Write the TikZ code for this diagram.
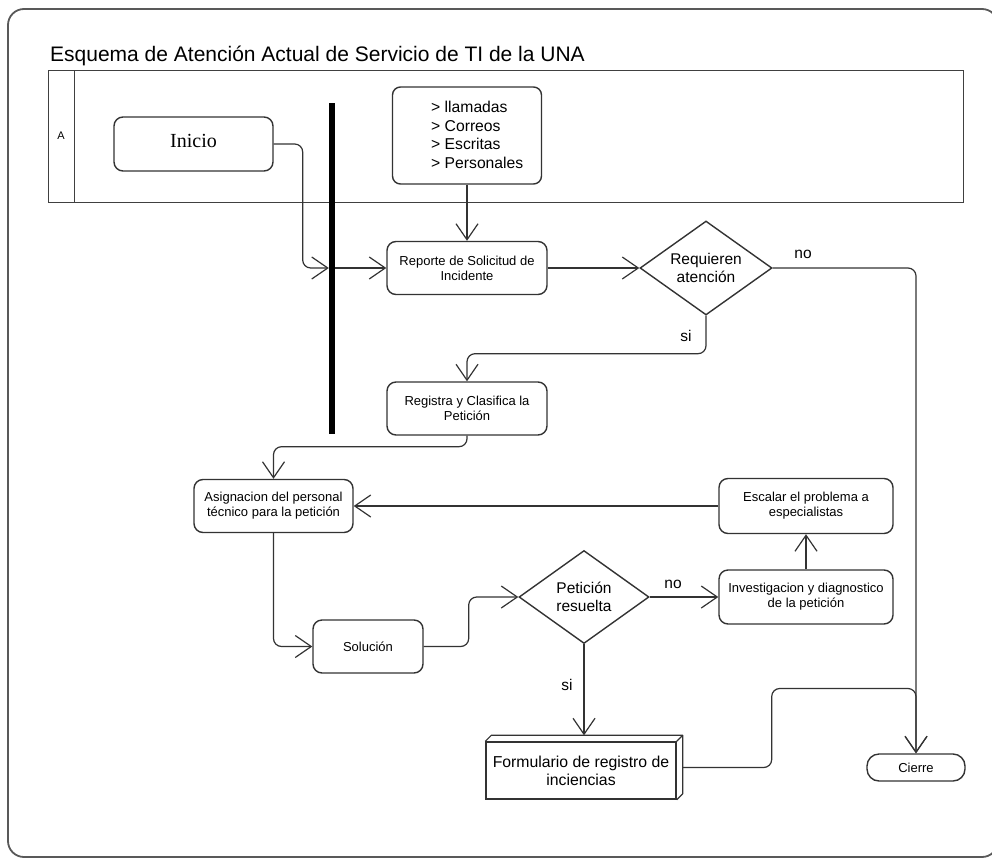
\documentclass[tikz,border=0pt]{standalone}
\usepackage{fontspec}
\setmainfont{Liberation Sans}
\newfontfamily\seriffont{Liberation Serif}
\usetikzlibrary{arrows.meta,shapes.geometric,calc}
\colorlet{ln}{black!80}
\begin{document}
\begin{tikzpicture}[x=1pt,y=-1pt,
  box/.style={draw=ln, rounded corners=9pt, line width=1.4pt, align=center,
    font=\fontsize{13}{15}\selectfont, inner sep=0pt},
  dec/.style={draw=ln, shape=diamond, aspect=1.4, inner sep=0pt, line width=1.4pt,
    align=center, font=\fontsize{15.5}{18}\selectfont},
  arr/.style={-{Straight Barb[length=16pt,width=22pt]}, line width=1.2pt, draw=ln,
    rounded corners=8pt},
  lbl/.style={font=\fontsize{15.5}{18}\selectfont, inner sep=0pt},
  lane/.style={draw=black!75, line width=1.4pt, inner sep=0pt, anchor=north west}]

\useasboundingbox (0,0) rectangle (992,859);

% outer frame
\draw[draw=black!65, line width=1.8pt, rounded corners=16pt] (8,9) rectangle (998,857);

% title
\node[anchor=base west, font=\fontsize{21}{25}\selectfont, inner sep=0pt] (titulo) at (50,62)
  {Esquema de Atención Actual de Servicio de TI de la UNA};

% swimlane
\node[lane, minimum width=915, minimum height=132] (carril) at (48,70) {};
\node[lane, minimum width=26, minimum height=132] (cabecera) at (48,70) {};
\node[font=\fontsize{11}{13}\selectfont, inner sep=0pt] (letraA) at (61,136) {A};

% thick bar
\node[fill=black, minimum width=6, minimum height=331, inner sep=0pt] (bar) at (332,268) {};

% nodes
\node[box, minimum width=159, minimum height=54] (inicio) at (193.5,144)
  {\seriffont\fontsize{20}{24}\selectfont\raisebox{6pt}{Inicio}};
\node[box, rounded corners=8pt, minimum width=149, minimum height=97] (fuentes) at (467,135.5) {};
\node[anchor=west, align=left, font=\fontsize{15.7}{18.7}\selectfont, inner sep=0pt] (fuentestxt) at (431,135)
  {> llamadas\\> Correos\\> Escritas\\> Personales};

\node[box, minimum width=160, minimum height=53] (reporte) at (467,268)
  {Reporte de Solicitud de\\Incidente};
\node[dec, minimum width=132, minimum height=94] (req) at (706,268)
  {Requieren\\atención};
\node[box, minimum width=160, minimum height=53] (registra) at (467,408.5)
  {Registra y Clasifica la\\Petición};
\node[box, minimum width=159, minimum height=53] (asig) at (273.5,506)
  {Asignacion del personal\\técnico para la petición};
\node[box, minimum width=174, minimum height=55] (esc) at (806,506)
  {Escalar el problema a\\especialistas};
\node[box, minimum width=110, minimum height=53] (sol) at (368,646.5)
  {Solución};
\node[dec, minimum width=130, minimum height=93] (pet) at (584,597)
  {Petición\\resuelta};
\node[box, minimum width=174, minimum height=54] (inv) at (806,597)
  {Investigacion y diagnostico\\de la petición};
\node[draw=ln, line width=1.4pt, inner sep=0pt, minimum width=190, minimum height=57,
  align=center, font=\fontsize{15.8}{18}\selectfont] (form) at (581,770.5)
  {Formulario de registro de\\inciencias};
\draw[draw=ln, line width=1.2pt, line join=round]
  (form.north west) -- ++(6,-6) -- ($(form.north east)+(6,-6)$) -- (form.north east)
  ($(form.north east)+(6,-6)$) -- ($(form.south east)+(6,-6)$) -- (form.south east);
\node[box, rounded corners=12pt, minimum width=98, minimum height=27] (cierre) at (916,767.5)
  {Cierre};

% labels
\node[lbl] (no1) at (803,254) {no};
\node[lbl] (si1) at (686,336) {si};
\node[lbl] (no2) at (673,584) {no};
\node[lbl] (si2) at (567,685) {si};

% connectors
\draw[arr] (inicio.east) -- ++(29,0) |- (bar.west);
\draw[arr] (bar.east) -- (reporte.west);
\draw[arr] (fuentes.south) -- (reporte.north);
\draw[arr] (reporte.east) -- (req.west);
\draw[arr] (req.east) -| (cierre.north);
\draw[arr] (req.south) -- ++(0,38) -| (registra.north);
\draw[arr] (registra.south) -- ++(0,11) -| (asig.north);
\draw[arr] (asig.south) |- (sol.west);
\draw[arr] (sol.east) -- ++(45,0) |- (pet.west);
\draw[arr] (pet.east) -- (inv.west);
\draw[arr] (inv.north) -- (esc.south);
\draw[arr] (esc.west) -- (asig.east);
\draw[arr] (pet.south) -- ($(pet.south |- form.north)+(0,-6)$);
\draw[arr] ($(form.east)+(6,-3)$) -| ($(form.east)+(95,-82)$) -| (cierre.north);

\end{tikzpicture}
\end{document}
